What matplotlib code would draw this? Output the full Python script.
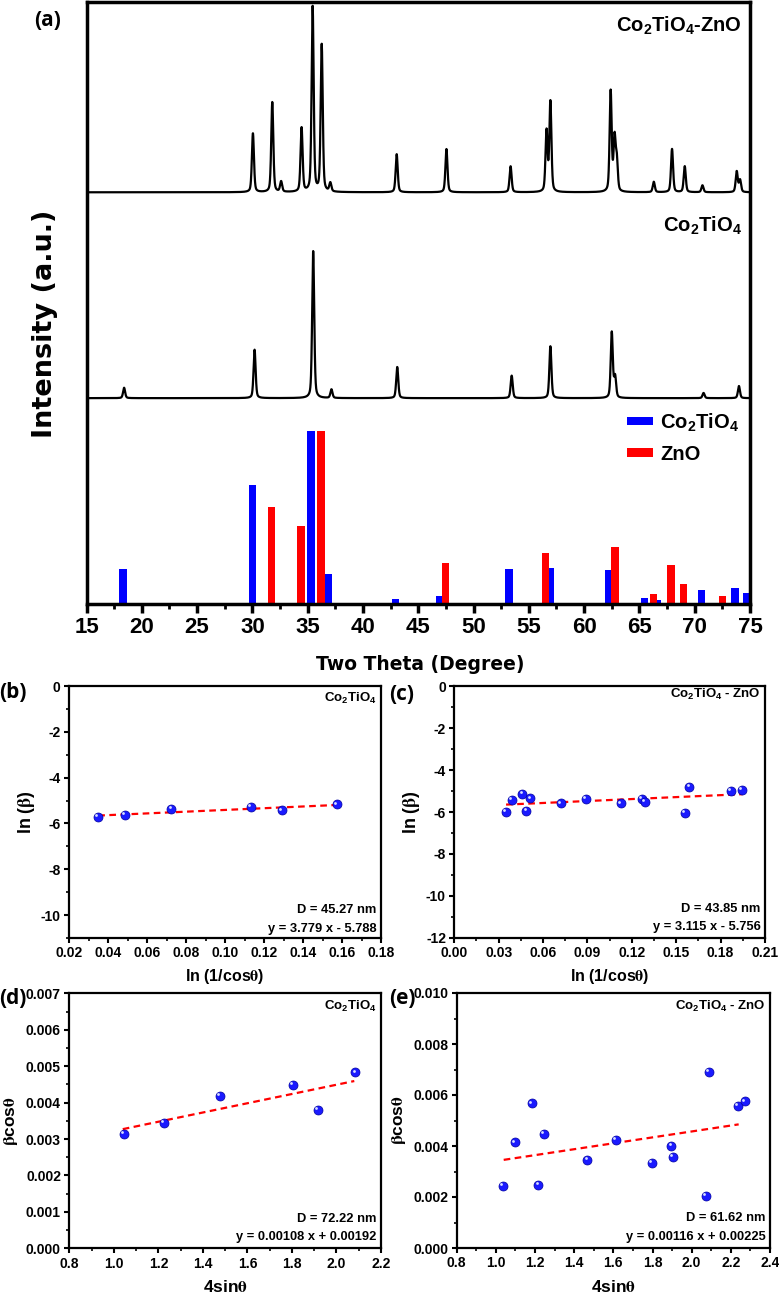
import numpy as np
import matplotlib
matplotlib.use('Agg')
import matplotlib.pyplot as plt
from matplotlib.ticker import MultipleLocator, FormatStrFormatter
from matplotlib.transforms import offset_copy

plt.rcParams['font.family'] = ['Liberation Sans', 'DejaVu Sans']
plt.rcParams['font.weight'] = 'bold'
plt.rcParams['axes.labelweight'] = 'bold'
plt.rcParams['mathtext.fontset'] = 'stix'
plt.rcParams['mathtext.default'] = 'regular'
plt.rcParams['axes.unicode_minus'] = False

# ---- (a) XRD patterns: peak tables (2theta, height) ----
mix_peak_pos = [30.05, 31.8, 32.6, 34.45, 35.45, 36.27, 37.05, 43.05, 47.55, 53.35,
                56.6, 56.95, 62.4, 62.75, 62.95, 66.3, 67.95, 69.1, 70.7, 73.8, 74.1]
mix_peak_int = [34, 52, 6, 37, 107, 85, 5, 22, 25, 15,
                35, 52, 58, 30, 18, 6, 25, 15, 4, 12, 7]
mix_baseline = 238

co_peak_pos = [18.4, 30.2, 35.5, 37.15, 43.1, 53.45, 56.95, 62.5, 62.8, 70.8, 74.0]
co_peak_int = [6, 28, 85, 5, 18, 13, 30, 38, 12, 3, 7]
co_baseline = 119

# reference (stick) patterns
ref_co_pos = [18.3, 30.0, 35.3, 36.9, 42.95, 46.9, 53.2, 56.95, 62.2, 65.45, 66.65, 70.6, 73.65, 74.65]
ref_co_int = [20.4, 69.0, 100, 17.5, 2.9, 4.8, 20.4, 20.8, 19.6, 3.3, 2.5, 8.1, 9.0, 6.3]
ref_zno_pos = [31.75, 34.4, 36.2, 47.5, 56.5, 62.8, 66.25, 67.86, 69.0, 72.5]
ref_zno_int = [56.0, 45.2, 100, 23.8, 29.4, 32.7, 6.0, 22.3, 11.7, 4.6]

# ---- (b) Scherrer plot, Co2TiO4 ----
b_x = [0.0348, 0.0486, 0.0725, 0.1132, 0.1292, 0.1573]
b_y = [-5.72, -5.64, -5.38, -5.28, -5.43, -5.17]
b_fit = (3.779, -5.788)
b_range = (0.035, 0.157)

# ---- (c) Scherrer plot, Co2TiO4-ZnO ----
c_x = [0.0349, 0.0392, 0.046, 0.0487, 0.0514, 0.0723, 0.089, 0.1124, 0.127, 0.1287,
       0.156, 0.1589, 0.1872, 0.1942]
c_y = [-6.01, -5.43, -5.12, -5.96, -5.35, -5.59, -5.37, -5.59, -5.39, -5.51,
       -6.04, -4.81, -4.99, -4.96]
c_fit = (3.115, -5.756)
c_range = (0.035, 0.195)

# ---- (d) W-H plot, Co2TiO4 ----
d_x = [1.047, 1.225, 1.477, 1.806, 1.915, 2.085]
d_y = [0.00315, 0.00345, 0.00418, 0.00448, 0.00380, 0.00483]
d_fit = (0.00127, 0.00195)
d_range = (1.04, 2.08)

# ---- (e) W-H plot, Co2TiO4-ZnO ----
e_x = [1.038, 1.096, 1.183, 1.217, 1.244, 1.467, 1.614, 1.797, 1.896, 1.905,
       2.073, 2.087, 2.235, 2.271]
e_y = [0.00242, 0.00414, 0.00567, 0.00246, 0.00446, 0.00345, 0.00424, 0.00335,
       0.00401, 0.00358, 0.00205, 0.00692, 0.00558, 0.00575]
e_fit = (0.00116, 0.00225)
e_range = (1.04, 2.24)

W, H = 779, 1293
fig = plt.figure(figsize=(W / 100, H / 100), dpi=100)


def pattern(tt, pos, amp, fwhm=0.22, eta=0.4):
    y = np.zeros_like(tt)
    for p, a in zip(pos, amp):
        d = (tt - p) / (fwhm / 2)
        y += a * (eta / (1 + d ** 2) + (1 - eta) * np.exp(-np.log(2) * d ** 2))
    return y


# ---------------- (a) ----------------
ax = fig.add_axes([86.5 / W, 1 - 604 / H, 663.5 / W, 602 / H])
tt = np.arange(15, 75.0001, 0.01)
ax.plot(tt, mix_baseline + pattern(tt, mix_peak_pos, mix_peak_int), color='black', lw=1.6)
ax.plot(tt, co_baseline + pattern(tt, co_peak_pos, co_peak_int), color='black', lw=1.6)
bars_co = ax.bar(ref_co_pos, ref_co_int, width=0.65, color='#0000ff', zorder=2)
bars_zno = ax.bar(ref_zno_pos, ref_zno_int, width=0.65, color='#ff0000', zorder=2)
ax.set_xlim(15, 75)
ax.set_ylim(0, 348)
ax.set_yticks([])
ax.xaxis.set_major_locator(MultipleLocator(5))
ax.xaxis.set_minor_locator(MultipleLocator(2.5))
ax.xaxis.set_major_formatter(FormatStrFormatter('%d'))
ax.tick_params(axis='x', which='major', direction='out', length=6.5, width=2.5,
               labelsize=16, pad=3)
ax.tick_params(axis='x', which='minor', direction='out', length=3.5, width=2)
for s in ax.spines.values():
    s.set_linewidth(2.5)
ax.text(0.988, 0.950, r'Co$_2$TiO$_4$-ZnO', transform=ax.transAxes, ha='right',
        va='baseline', fontsize=14.5)
ax.text(0.988, 0.618, r'Co$_2$TiO$_4$', transform=ax.transAxes, ha='right',
        va='baseline', fontsize=14.5)
ax.legend([bars_co, bars_zno], [r'Co$_2$TiO$_4$', 'ZnO'], loc='center left',
          bbox_to_anchor=(0.8146, 0.2766), frameon=False, fontsize=14.5,
          handlelength=1.3, handleheight=0.3, handletextpad=0.35,
          borderpad=0, borderaxespad=0, labelspacing=0.55)
fig.text(45 / W, 1 - 324 / H, 'Intensity (a.u.)', rotation=90, ha='center', va='center',
         family='DejaVu Sans', fontsize=19.5, weight='bold')
fig.text(420 / W, 1 - 664 / H, 'Two Theta (Degree)', ha='center', va='center',
         family='DejaVu Sans', fontsize=13.5, weight='bold')
fig.text(48 / W, 1 - 21 / H, '(a)', ha='center', va='center', family='Open Sans',
         fontsize=15, weight='bold')


def small_panel(rect, x, y, fit, xr, xlim, xmaj, xfmt, ylim, ymaj, yfmt,
                sample, dtext, eqtext, xlabel, ylabel, pos):
    a = fig.add_axes(rect)
    a.scatter(x, y, s=42, color='#1a1aff', edgecolors='#0000a0', linewidths=0.5, zorder=3)
    hl = offset_copy(a.transData, fig=fig, x=-1.3, y=1.3, units='points')
    a.scatter(x, y, s=4, color='#d8e0ff', linewidths=0, transform=hl, zorder=4)
    xs = np.array(xr)
    a.plot(xs, fit[0] * xs + fit[1], color='#ff0000', lw=1.6, ls=(0, (3, 2)), zorder=2)
    a.set_xlim(*xlim)
    a.set_ylim(*ylim)
    a.xaxis.set_major_locator(MultipleLocator(xmaj))
    a.xaxis.set_minor_locator(MultipleLocator(xmaj / 2))
    a.yaxis.set_major_locator(MultipleLocator(ymaj))
    a.yaxis.set_minor_locator(MultipleLocator(ymaj / 2))
    a.xaxis.set_major_formatter(FormatStrFormatter(xfmt))
    a.yaxis.set_major_formatter(FormatStrFormatter(yfmt))
    a.tick_params(which='major', direction='out', length=3.5, width=1.5, labelsize=10, pad=2.5)
    a.tick_params(which='minor', direction='out', length=2, width=1.2)
    plt.setp(a.get_xticklabels() + a.get_yticklabels(), fontweight='bold')
    for s in a.spines.values():
        s.set_linewidth(1.6)
    a.text(0.986, pos[0], sample, transform=a.transAxes, ha='right', va='baseline', fontsize=9.5)
    a.text(0.986, pos[1], dtext, transform=a.transAxes, ha='right', va='baseline', fontsize=9.3)
    a.text(0.986, pos[2], eqtext, transform=a.transAxes, ha='right', va='baseline', fontsize=9.3)
    a.set_xlabel(xlabel, fontsize=pos[5], labelpad=pos[3])
    a.set_ylabel(ylabel, fontsize=pos[6], labelpad=pos[4])
    return a


small_panel([69 / W, 1 - 938 / H, 312 / W, 252 / H], b_x, b_y, b_fit, b_range,
            (0.02, 0.18), 0.02, '%.2f', (-11, 0), 2, '%d',
            r'Co$_2$TiO$_4$', 'D = 45.27 nm', 'y = 3.779 x - 5.788',
            r'ln (1/cos$\mathrm{\theta}$)', r'ln ($\mathrm{\beta}$)',
            (0.937, 0.099, 0.025, 5, 3, 11.5, 13))
small_panel([454.3 / W, 1 - 937.7 / H, 310.7 / W, 251.4 / H], c_x, c_y, c_fit, c_range,
            (0.0, 0.21), 0.03, '%.2f', (-12, 0), 2, '%d',
            r'Co$_2$TiO$_4$ - ZnO', 'D = 43.85 nm', 'y = 3.115 x - 5.756',
            r'ln (1/cos$\mathrm{\theta}$)', r'ln ($\mathrm{\beta}$)',
            (0.953, 0.104, 0.031, 5, 3, 11.5, 13))
small_panel([69.3 / W, 1 - 1248.3 / H, 311.7 / W, 255 / H], d_x, d_y, d_fit, d_range,
            (0.8, 2.2), 0.2, '%.1f', (0, 0.007), 0.001, '%.3f',
            r'Co$_2$TiO$_4$', 'D = 72.22 nm', 'y = 0.00108 x + 0.00192',
            r'4sin$\mathrm{\theta}$', r'$\mathrm{\beta}$cos$\mathrm{\theta}$',
            (0.934, 0.104, 0.033, 6, 4, 12.5, 12.5))
small_panel([456.7 / W, 1 - 1248 / H, 313.3 / W, 255 / H], e_x, e_y, e_fit, e_range,
            (0.8, 2.4), 0.2, '%.1f', (0, 0.010), 0.002, '%.3f',
            r'Co$_2$TiO$_4$ - ZnO', 'D = 61.62 nm', 'y = 0.00116 x + 0.00225',
            r'4sin$\mathrm{\theta}$', r'$\mathrm{\beta}$cos$\mathrm{\theta}$',
            (0.934, 0.104, 0.033, 6, 4, 12.5, 12.5))

for lab, (px, py) in zip(['(b)', '(c)', '(d)', '(e)'],
                         [(13, 692), (402, 694), (13, 998), (402, 999)]):
    fig.text(px / W, 1 - py / H, lab, ha='center', va='center', family='Open Sans',
             fontsize=15, weight='bold')

fig.savefig('out.png', dpi=100)
